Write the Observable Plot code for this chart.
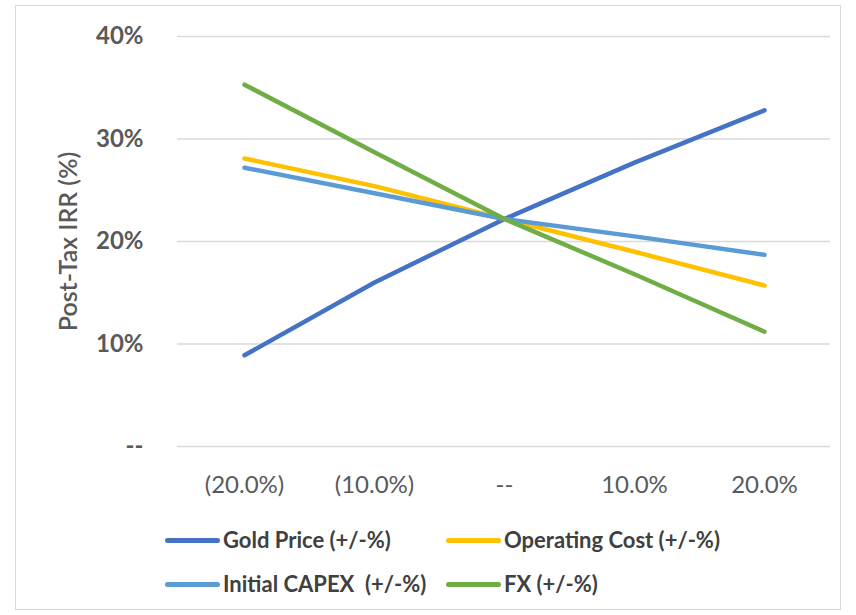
<!DOCTYPE html>
<html><head><meta charset="utf-8">
<script src="https://cdn.jsdelivr.net/npm/d3@7"></script>
<script src="https://cdn.jsdelivr.net/npm/@observablehq/plot@0.6"></script>
<style>
html,body{margin:0;padding:0;background:#fff;}
#wrap{position:relative;width:856px;height:615px;font-family:Lato,sans-serif;overflow:hidden;}
#frame{position:absolute;left:15px;top:5px;width:826px;height:605px;border:1.5px solid #d9d9d9;box-sizing:border-box;}
#chart{position:absolute;left:0;top:0;}
.sw{position:absolute;height:5px;border-radius:2.5px;}
.lt{position:absolute;font-weight:700;font-size:22px;color:#404040;white-space:pre;line-height:1;transform:translateY(-50%);}
</style></head><body>
<div id="wrap"><div id="frame"></div><div id="chart"></div><div id="legend"></div></div>
<script>
const categories = ["(20.0%)","(10.0%)","--","10.0%","20.0%"];
const goldPrice = [8.9, 16.0, 22.2, 27.7, 32.8];
const operatingCost = [28.1, 25.4, 22.2, 19.0, 15.7];
const initialCapex = [27.2, 24.7, 22.2, 20.5, 18.7];
const fx = [35.3, 28.7, 22.2, 16.8, 11.2];
const seriesNames = ["Gold Price (+/-%)", "Operating Cost (+/-%)", "Initial CAPEX  (+/-%)", "FX (+/-%)"];
const seriesColors = ["#4472C4", "#FFC000", "#5B9BD5", "#70AD47"];
const yTicks = [0, 10, 20, 30, 40];
const yTitle = "Post-Tax IRR (%)";

const allSeries = [goldPrice, operatingCost, initialCapex, fx];
const data = [];
allSeries.forEach((vals, i) => vals.forEach((v, j) => data.push({series: seriesNames[i], cat: categories[j], value: v})));

const chart = Plot.plot({
  width: 856, height: 520,
  marginLeft: 177, marginRight: 26, marginTop: 36, marginBottom: 74,
  style: {fontFamily: "Lato, sans-serif", background: "transparent", overflow: "visible"},
  x: {type: "point", domain: categories, padding: 0.5},
  y: {domain: [0, 40]},
  color: {domain: seriesNames, range: seriesColors},
  marks: [
    Plot.gridY(yTicks, {stroke: "#d9d9d9", strokeOpacity: 1, strokeWidth: 1.5}),
    Plot.axisY(yTicks, {tickSize: 0, tickPadding: 34, tickFormat: d => d === 0 ? "--" : d + "%", fontSize: 24, fontWeight: 700, color: "#595959", label: null}),
    Plot.axisX({tickSize: 0, tickPadding: 29, fontSize: 24, color: "#595959", label: null}),
    Plot.lineY(data, {x: "cat", y: "value", z: "series", stroke: "series", strokeWidth: 4.5, strokeLinecap: "round", strokeLinejoin: "round"}),
    Plot.text([yTitle], {text: d => d, frameAnchor: "left", dx: -109, rotate: -90, textAnchor: "middle", fontSize: 25, fontWeight: 600, fill: "#595959"})
  ]
});
document.getElementById("chart").appendChild(chart);

const legend = document.getElementById("legend");
const legendPos = [[165, 540], [446, 540], [165, 584], [446, 584]];
seriesNames.forEach((name, i) => {
  const [lx, ly] = legendPos[i];
  const sw = document.createElement("div");
  sw.className = "sw";
  sw.style.left = lx + "px"; sw.style.top = (ly - 2.5) + "px"; sw.style.width = "55px";
  sw.style.background = seriesColors[i];
  legend.appendChild(sw);
  const t = document.createElement("div");
  t.className = "lt";
  t.style.left = (lx + 58) + "px"; t.style.top = ly + "px";
  t.textContent = name;
  legend.appendChild(t);
});
</script>
</body></html>
